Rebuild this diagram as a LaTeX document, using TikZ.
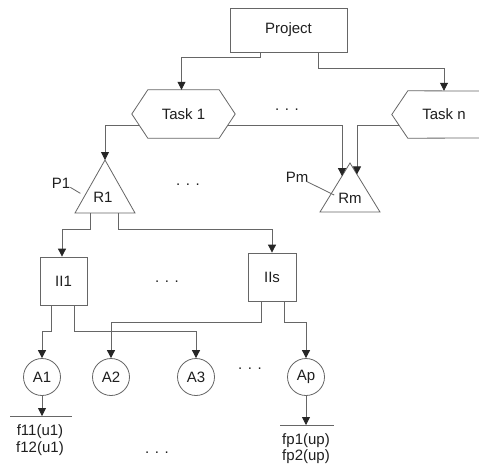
\documentclass[tikz,border=0pt]{standalone}
\usepackage{fontspec}
\setmainfont{Liberation Sans}
\usetikzlibrary{arrows.meta,calc}
\definecolor{linec}{gray}{0.4}
\definecolor{txtc}{gray}{0.12}
\tikzset{
  lbl/.style={font=\fontsize{15}{17}\selectfont, text=txtc, inner sep=1pt},
  boxnode/.style={lbl, draw=linec, line width=0.8pt},
  circnode/.style={lbl, draw=linec, line width=0.8pt, circle, minimum size=37pt, inner sep=0pt},
  shapeline/.style={draw=linec, line width=0.8pt},
  conn/.style={draw=linec, line width=0.8pt},
  arr/.style={conn, -{Triangle[length=8pt,width=8pt,color=black!85]}},
}
\begin{document}
\begin{tikzpicture}[x=1pt,y=-1pt]
\useasboundingbox[fill=white] (0,0) rectangle (479,469);

% Project
\node[boxnode, minimum width=117pt, minimum height=44pt] (proj) at (288.5,30) {Project};

% Tasks
\node[lbl, minimum width=103pt, minimum height=48pt] (task1) at (183.5,114) {Task 1};
\draw[shapeline] (task1.west) -- ([xshift=16pt]task1.north west) -- ([xshift=-16pt]task1.north east)
  -- (task1.east) -- ([xshift=-16pt]task1.south east) -- ([xshift=16pt]task1.south west) -- cycle;
\node[lbl, minimum width=104pt, minimum height=47pt] (taskn) at (444,114.5) {Task n};
\draw[shapeline] (479,91) -- ([xshift=16pt]taskn.north west) -- (taskn.west)
  -- ([xshift=16pt]taskn.south west) -- (479,138);
\node[lbl] (dt) at (287,110) {. . .};

\draw[arr] ([xshift=-28.5pt]proj.south) -- ++(0,5) -| ([xshift=-2pt]task1.north);
\draw[arr] ([xshift=29.5pt]proj.south) -- ++(0,16) -| (taskn.north);

% R1 triangle
\coordinate (r1top) at (105,160);
\coordinate (r1bl) at (75,213);
\coordinate (r1br) at (135,213);
\draw[shapeline] (r1top) -- (r1bl) -- (r1br) -- cycle;
\node[lbl] (r1) at (103,197) {R1};
\node[lbl] (p1) at (61,183) {P1};
\draw[conn] ([xshift=-1pt,yshift=2pt]p1.south east) -- ++(10,6);

% Rm triangle
\coordinate (rmtop) at (350,163);
\coordinate (rmbl) at (320,212);
\coordinate (rmbr) at (380,212);
\draw[shapeline] (rmtop) -- (rmbl) -- (rmbr) -- cycle;
\node[lbl] (rm) at (350,198) {Rm};
\node[lbl] (pm) at (297,177) {Pm};
\draw[conn] ([xshift=-3pt,yshift=2pt]pm.south east) -- ([xshift=-3pt,yshift=3pt]rm.west);
\coordinate (rmL) at ($(rmtop)!0.267!(rmbl)$);
\coordinate (rmR) at ($(rmtop)!0.233!(rmbr)$);
\node[lbl] (dr) at (188,185) {. . .};

\draw[arr] ([xshift=7.3pt,yshift=-11pt]task1.west) -| (r1top);
\draw[arr] ([xshift=-7.3pt,yshift=-11pt]task1.east) -| (rmL);
\draw[arr] ([xshift=7.3pt,yshift=-11pt]taskn.west) -| (rmR);

% II boxes
\node[boxnode, minimum width=47pt, minimum height=48pt] (ii1) at (63.5,281) {II1};
\node[boxnode, minimum width=48pt, minimum height=48pt] (iis) at (272,277) {IIs};
\node[lbl] (di) at (167,282) {. . .};

\draw[arr] ($(r1bl)!0.25!(r1br)$) -- ++(0,16) -| ([xshift=-1.5pt]ii1.north);
\draw[arr] ($(r1bl)!0.717!(r1br)$) -- ++(0,16) -| (iis.north);

% Activities
\node[circnode] (a1) at (42,377) {A1};
\node[circnode] (a2) at (111,377) {A2};
\node[circnode] (a3) at (196,377) {A3};
\node[circnode] (ap) at (306,377) {Ap};
\node[lbl] (da) at (250,369) {. . .};

\draw[arr] ([xshift=-12.5pt]ii1.south) -- ++(0,26) -| (a1.north);
\draw[arr] ([xshift=10.5pt]ii1.south) -- ++(0,26) -| (a3.north);
\draw[arr] ([xshift=-11pt]iis.south) -- ++(0,21) -| (a2.north);
\draw[arr] ([xshift=12pt]iis.south) -- ++(0,21) -| (ap.north);

% Functions
\coordinate (f1) at (42,416);
\coordinate (f1l) at (10,416);
\coordinate (f1r) at (72,416);
\draw[conn] (f1l) -- (f1r);
\draw[arr] (a1.south) -- (f1);
\node[lbl] (f11) at (40,432) {f11(u1)};
\node[lbl] (f12) at (40,449) {f12(u1)};

\coordinate (fp) at (306,425);
\coordinate (fpl) at (280,425);
\coordinate (fpr) at (334,425);
\draw[conn] (fpl) -- (fpr);
\draw[arr] (ap.south) -- (fp);
\node[lbl] (fp1) at (306,441) {fp1(up)};
\node[lbl] (fp2) at (306,457) {fp2(up)};
\node[lbl] (df) at (157,453) {. . .};
\end{tikzpicture}
\end{document}
